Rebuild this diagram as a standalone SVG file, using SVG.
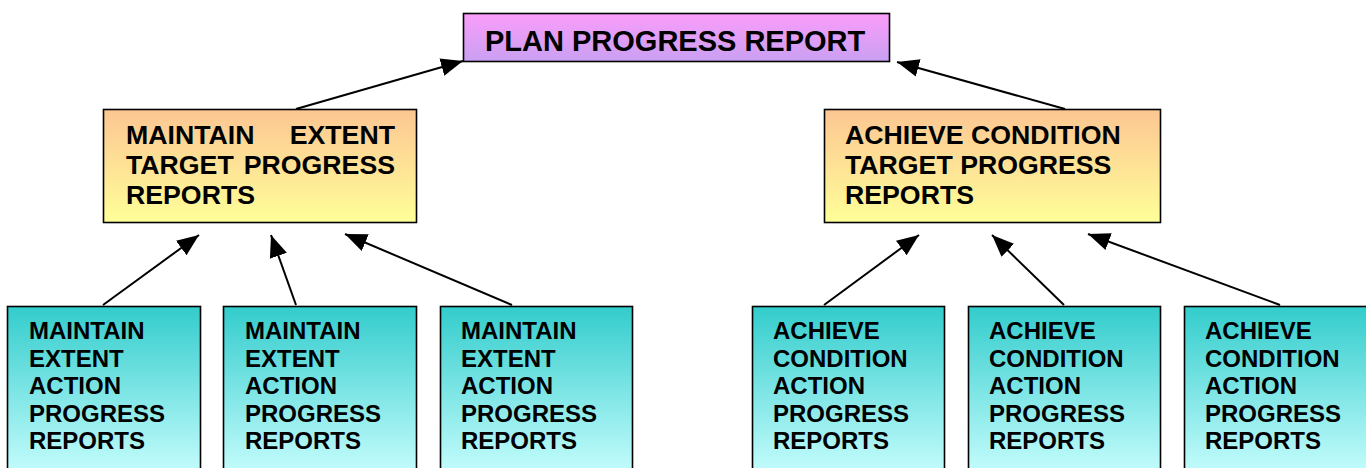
<svg xmlns="http://www.w3.org/2000/svg" width="1366" height="468" viewBox="0 0 1366 468">
<defs>
<linearGradient id="gPink" x1="0" y1="0" x2="0" y2="1"><stop offset="0" stop-color="#fa9dfa"/><stop offset="1" stop-color="#c9a0f2"/></linearGradient>
<linearGradient id="gOrange" x1="0" y1="0" x2="0" y2="1"><stop offset="0" stop-color="#fcc692"/><stop offset="1" stop-color="#ffff99"/></linearGradient>
<linearGradient id="gTeal" x1="0" y1="0" x2="0" y2="1"><stop offset="0" stop-color="#33cccc"/><stop offset="1" stop-color="#ccffff"/></linearGradient>
<marker id="arr" markerUnits="userSpaceOnUse" markerWidth="24" markerHeight="20" viewBox="0 -10 24 20" refX="22" refY="0" orient="auto"><path d="M0,-9 L22,0 L0,9 z" fill="#000"/></marker>
</defs>
<style>
.box{stroke:#000;stroke-width:1.6}
.t{font-family:"Liberation Sans",Arial,sans-serif;font-weight:bold;fill:#000}
.top{font-size:29px}
.mid{font-size:26.7px}
.bot{font-size:24px}
.c line{stroke:#000;stroke-width:2;marker-end:url(#arr)}
</style>
<rect width="1366" height="468" fill="#fff"/>
<g id="plan">
<rect class="box" x="463.5" y="13.5" width="426" height="48" fill="url(#gPink)"/>
<text class="t top" x="485" y="51">PLAN PROGRESS REPORT</text>
</g>
<g id="maintain-target">
<rect class="box" x="103.5" y="109.5" width="313" height="113" fill="url(#gOrange)"/>
<text class="t mid"><tspan x="126" y="144">MAINTAIN</tspan><tspan x="395" y="144" text-anchor="end">EXTENT</tspan><tspan x="126" y="174">TARGET</tspan><tspan x="395" y="174" text-anchor="end">PROGRESS</tspan><tspan x="126" y="204">REPORTS</tspan></text>
</g>
<g id="achieve-target">
<rect class="box" x="824.5" y="109.5" width="336" height="113" fill="url(#gOrange)"/>
<text class="t mid"><tspan x="845" y="144">ACHIEVE CONDITION</tspan><tspan x="845" y="174">TARGET PROGRESS</tspan><tspan x="845" y="204">REPORTS</tspan></text>
</g>
<g id="ma1">
<rect class="box" x="7.5" y="306.5" width="193" height="175" fill="url(#gTeal)"/>
<text class="t bot"><tspan x="29" y="339">MAINTAIN</tspan><tspan x="29" y="366.5">EXTENT</tspan><tspan x="29" y="394">ACTION</tspan><tspan x="29" y="421.5">PROGRESS</tspan><tspan x="29" y="449">REPORTS</tspan></text>
</g>
<g id="ma2">
<rect class="box" x="223.5" y="306.5" width="193" height="175" fill="url(#gTeal)"/>
<text class="t bot"><tspan x="245" y="339">MAINTAIN</tspan><tspan x="245" y="366.5">EXTENT</tspan><tspan x="245" y="394">ACTION</tspan><tspan x="245" y="421.5">PROGRESS</tspan><tspan x="245" y="449">REPORTS</tspan></text>
</g>
<g id="ma3">
<rect class="box" x="440.5" y="306.5" width="192" height="175" fill="url(#gTeal)"/>
<text class="t bot"><tspan x="461" y="339">MAINTAIN</tspan><tspan x="461" y="366.5">EXTENT</tspan><tspan x="461" y="394">ACTION</tspan><tspan x="461" y="421.5">PROGRESS</tspan><tspan x="461" y="449">REPORTS</tspan></text>
</g>
<g id="ac1">
<rect class="box" x="752.5" y="306.5" width="192" height="175" fill="url(#gTeal)"/>
<text class="t bot"><tspan x="773" y="339">ACHIEVE</tspan><tspan x="773" y="366.5">CONDITION</tspan><tspan x="773" y="394">ACTION</tspan><tspan x="773" y="421.5">PROGRESS</tspan><tspan x="773" y="449">REPORTS</tspan></text>
</g>
<g id="ac2">
<rect class="box" x="968.5" y="306.5" width="192" height="175" fill="url(#gTeal)"/>
<text class="t bot"><tspan x="989" y="339">ACHIEVE</tspan><tspan x="989" y="366.5">CONDITION</tspan><tspan x="989" y="394">ACTION</tspan><tspan x="989" y="421.5">PROGRESS</tspan><tspan x="989" y="449">REPORTS</tspan></text>
</g>
<g id="ac3">
<rect class="box" x="1184.5" y="306.5" width="192" height="175" fill="url(#gTeal)"/>
<text class="t bot"><tspan x="1205" y="339">ACHIEVE</tspan><tspan x="1205" y="366.5">CONDITION</tspan><tspan x="1205" y="394">ACTION</tspan><tspan x="1205" y="421.5">PROGRESS</tspan><tspan x="1205" y="449">REPORTS</tspan></text>
</g>
<g id="connectors" class="c">
<line x1="296" y1="109" x2="463" y2="61"/>
<line x1="1065" y1="109" x2="897" y2="62"/>
<line x1="103" y1="305" x2="199" y2="235"/>
<line x1="296" y1="305" x2="271" y2="235"/>
<line x1="512" y1="305" x2="345" y2="234"/>
<line x1="824" y1="305" x2="919" y2="235"/>
<line x1="1064" y1="305" x2="992" y2="235"/>
<line x1="1280" y1="305" x2="1088" y2="234"/>
</g>
</svg>
